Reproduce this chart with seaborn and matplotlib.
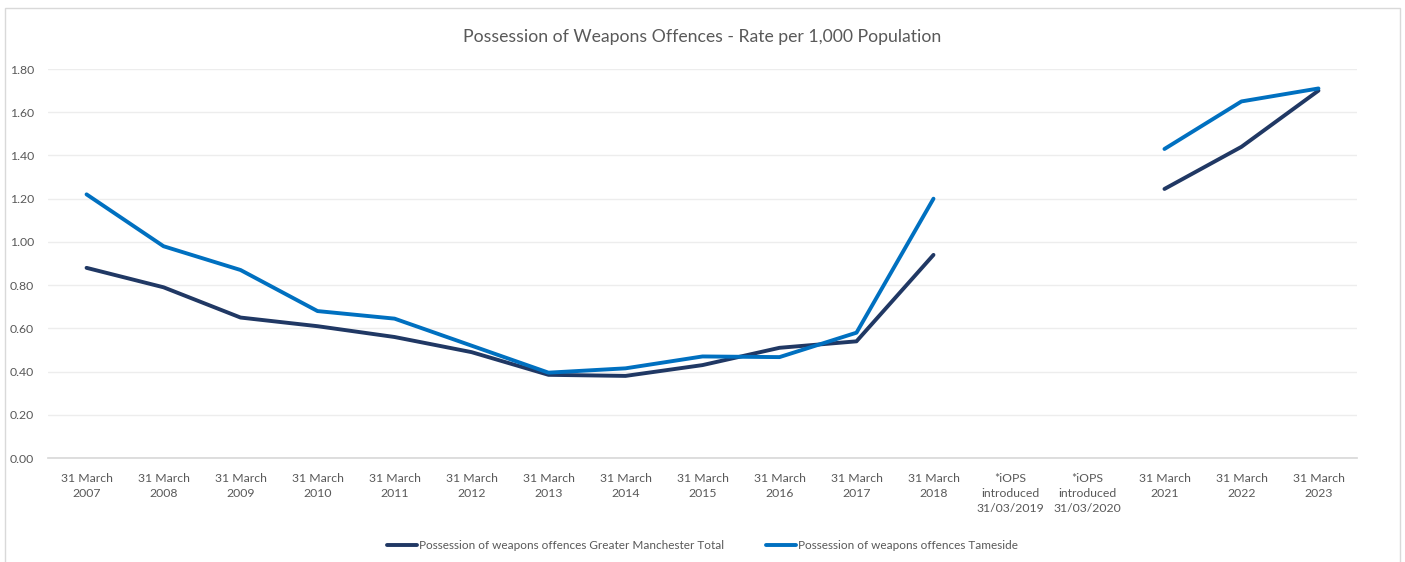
import numpy as np
import pandas as pd
import matplotlib
matplotlib.use("Agg")
import matplotlib.pyplot as plt
from matplotlib.patches import Rectangle
import seaborn as sns

categories = [
    "31 March\n2007", "31 March\n2008", "31 March\n2009", "31 March\n2010",
    "31 March\n2011", "31 March\n2012", "31 March\n2013", "31 March\n2014",
    "31 March\n2015", "31 March\n2016", "31 March\n2017", "31 March\n2018",
    "*iOPS\nintroduced\n31/03/2019", "*iOPS\nintroduced\n31/03/2020",
    "31 March\n2021", "31 March\n2022", "31 March\n2023",
]
gm_total = [0.88, 0.79, 0.65, 0.61, 0.56, 0.49, 0.385, 0.38, 0.43, 0.51, 0.54, 0.94,
            None, None, 1.245, 1.44, 1.70]
tameside = [1.22, 0.98, 0.87, 0.68, 0.645, 0.52, 0.395, 0.415, 0.47, 0.467, 0.58, 1.20,
            None, None, 1.43, 1.65, 1.71]
series_names = [
    "Possession of weapons offences Greater Manchester Total",
    "Possession of weapons offences Tameside",
]
series_colors = ["#203864", "#0070C0"]

sns.set_theme(style="white")
plt.rcParams["font.family"] = ["Lato", "DejaVu Sans"]

# Long table; a segment id splits each series where the values are missing
rows = []
for name, vals in zip(series_names, [gm_total, tameside]):
    seg = 0
    for i, v in enumerate(vals):
        if v is None:
            seg += 1
            continue
        rows.append({"pos": i, "rate": v, "series": name, "segment": seg})
df = pd.DataFrame(rows)

fig = plt.figure(figsize=(14.05, 5.62), dpi=100)
fig.patches.append(Rectangle((0.0036, -0.01), 0.9928, 0.996, transform=fig.transFigure,
                             fill=False, edgecolor="#D9D9D9", linewidth=1.0))
ax = fig.add_axes([0.0342, 0.185, 0.9316, 0.6922])

sns.lineplot(data=df, x="pos", y="rate", hue="series", units="segment", estimator=None,
             hue_order=series_names, palette=series_colors, linewidth=2.8,
             ax=ax, legend=False)

n = len(categories)
ax.set_xlim(-0.5, n - 0.5)
ax.set_ylim(0, 1.8)
ax.set_yticks(np.arange(0, 1.81, 0.2))
ax.set_yticklabels([f"{t:.2f}" for t in np.arange(0, 1.81, 0.2)])
ax.set_xticks(range(n))
ax.set_xticklabels(categories)
ax.set_xticks(np.arange(-0.5, n, 1.0), minor=True)
ax.tick_params(axis="x", which="major", length=0, pad=11, labelsize=8.8, colors="#595959")
ax.tick_params(axis="x", which="minor", length=5, color="#D9D9D9", width=1)
ax.tick_params(axis="y", length=0, pad=10, labelsize=8.8, colors="#595959")
for lbl in ax.get_xticklabels():
    lbl.set_linespacing(1.45)

ax.grid(axis="y", color="#EDEDED", linewidth=1)
ax.set_axisbelow(True)
for side in ["top", "right", "left"]:
    ax.spines[side].set_visible(False)
ax.spines["bottom"].set_color("#D9D9D9")
ax.set_xlabel("")
ax.set_ylabel("")

fig.text(0.5, 0.935, "Possession of Weapons Offences - Rate per 1,000 Population",
         ha="center", va="center", fontsize=12.7, color="#595959")

handles = [plt.Line2D([0], [0], color=c, linewidth=2.8) for c in series_colors]
fig.legend(handles, series_names, loc="center", bbox_to_anchor=(0.5, 0.03), ncol=2,
           frameon=False, fontsize=8.5, labelcolor="#595959", handlelength=2.5,
           handletextpad=0.15, columnspacing=3.6)

fig.savefig("out.png", dpi=100, facecolor="white")
